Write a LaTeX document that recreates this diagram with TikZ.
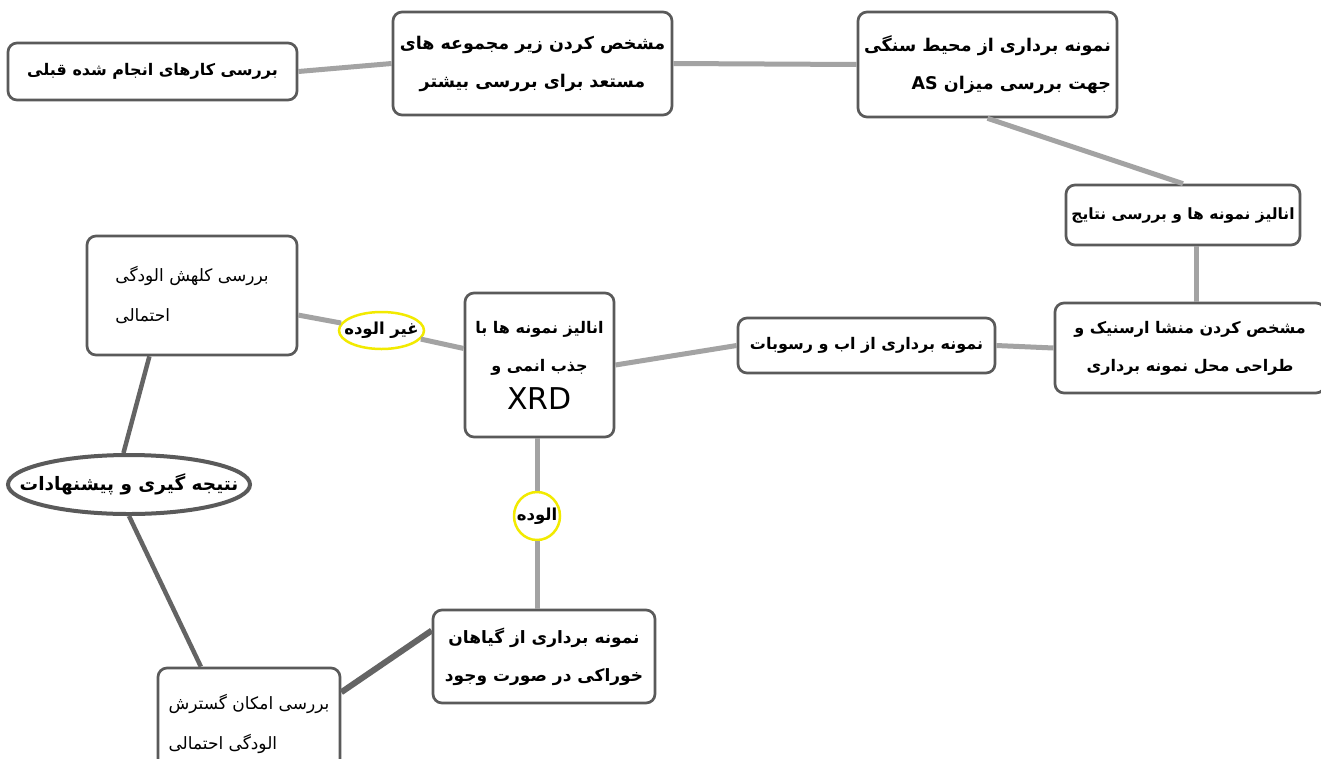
\documentclass[tikz,border=0pt]{standalone}
\usepackage{fontspec}
\setmainfont{DejaVu Sans}
\newfontfamily\arabicfont[Script=Arabic]{DejaVu Sans}
\TeXXeTstate=1
\usetikzlibrary{shapes.geometric}
\definecolor{boxgray}{HTML}{5A5A5A}
\definecolor{linkgray}{HTML}{A3A3A3}
\definecolor{darkgray}{HTML}{646464}
\definecolor{tagyellow}{HTML}{F2EA00}
\newcommand{\fa}[1]{{\arabicfont\beginR #1\endR}}
\newcommand{\fsize}[1]{\fontsize{#1}{38}\selectfont}

\begin{document}
\begin{tikzpicture}[x=1pt, y=-1pt,
        box/.style={draw=boxgray, line width=2.7pt, rounded corners=9pt, fill=white, align=center,
            inner sep=2pt, font=\bfseries\fsize{16}},
        thinbox/.style={box, align=left, font=\fontsize{17}{40}\selectfont},
        tag/.style={ellipse, draw=tagyellow, line width=2.5pt, fill=white, inner ysep=0pt, inner xsep=-15pt,
            font=\bfseries\fontsize{16.5}{18}\selectfont},
        oval/.style={ellipse, draw=boxgray, line width=4pt, fill=white, inner ysep=0pt, inner xsep=-40pt,
            font=\bfseries\fontsize{18.5}{20}\selectfont},
        link/.style={draw=linkgray, line width=5pt},
        darklink/.style={draw=darkgray, line width=4.5pt}
]
    \fill[white] (0,0) rectangle (1321,758);
    \useasboundingbox (0,0) rectangle (1321,758);

    % top row
    \node[box, minimum width=289pt, minimum height=57pt] (previous) at (152.5,71.5) {\fa{بررسی کارهای انجام شده قبلی}};
    \node[box, font=\bfseries\fsize{17.5}, minimum width=279pt, minimum height=103pt] (subsets) at (532.5,63.5) {\fa{مشخص کردن زیر مجموعه های}\\\fa{مستعد برای بررسی بیشتر}};
    \node[box, font=\bfseries\fsize{17.5}, align=right, minimum width=259pt, minimum height=105pt] (rock) at (987.5,64.5) {\fa{نمونه برداری از محیط سنگی}\\\fa{جهت بررسی میزان \beginL AS\endL}};
    \node[box, font=\bfseries\fsize{15.5}, minimum width=234pt, minimum height=60pt] (results) at (1183,215) {\fa{انالیز نمونه ها و بررسی نتایج}};

    % middle row
    \node[box, minimum width=270pt, minimum height=90pt] (origin) at (1190,348) {\fa{مشخص کردن منشا ارسنیک و}\\\fa{طراحی محل نمونه برداری}};
    \node[box, minimum width=257pt, minimum height=55pt] (water) at (866.5,345.5) {\fa{نمونه برداری از اب و رسوبات}};
    \node[box, minimum width=149pt, minimum height=144pt] (xrd) at (539.5,365) {\fa{انالیز نمونه ها با}\\\fa{جذب انمی و}\\{\mdseries\fontsize{30}{30}\selectfont XRD}};
    \node[tag, minimum width=85pt, minimum height=37pt] (clean) at (381.5,330.5) {\fa{غیر الوده}};
    \node[thinbox, minimum width=210pt, minimum height=119pt] (reduce) at (192,295.5) {\fa{بررسی کلهش الودگی}\\\fa{احتمالی}};

    % bottom
    \node[oval, minimum width=242pt, minimum height=59pt] (conclusion) at (129,484.5) {\fa{نتیجه گیری و پیشنهادات}};
    \node[tag, minimum width=46pt, minimum height=48pt] (polluted) at (537,516) {\fa{الوده}};
    \node[box, font=\bfseries\fsize{17}, minimum width=222pt, minimum height=93pt] (plants) at (544,656.5) {\fa{نمونه برداری از گیاهان}\\\fa{خوراکی در صورت وجود}};
    \node[thinbox, minimum width=182pt, minimum height=112pt] (spread) at (249,724) {\fa{بررسی امکان گسترش}\\\fa{الودگی احتمالی}};

    % connectors
    \draw[link] (previous.east) -- (subsets.west);
    \draw[link] (subsets.east) -- (rock.west);
    \draw[link] (rock.south) -- (results.north);
    \draw[link] ([xshift=13pt]results.south) -- ([xshift=13pt]results.south |- origin.north);
    \draw[link] (water.east) -- (origin.west);
    \draw[link] (water.west) -- (xrd.east);
    \draw[link] (xrd) -- (clean);
    \draw[link] (clean) -- (reduce);
    \draw[link] (polluted.north) -- (polluted.north |- xrd.south);
    \draw[link] (polluted.south) -- (polluted.south |- plants.north);
    \draw[darklink] (reduce.235) -- (conclusion.100);
    \draw[darklink] (conclusion.south) -- (spread.130);
    \draw[darklink, line width=6pt] (spread.19) -- (plants.167);
\end{tikzpicture}
\end{document}
